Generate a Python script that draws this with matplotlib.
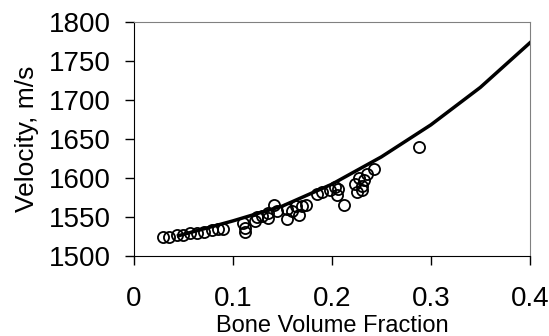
import matplotlib
matplotlib.use('Agg')
import matplotlib.pyplot as plt

plt.rcParams['font.family'] = ['Liberation Sans', 'DejaVu Sans']

# model curve
curve_bvf = [0.045, 0.1, 0.15, 0.2, 0.25, 0.3, 0.35, 0.4]
curve_vel = [1526, 1545, 1564, 1592, 1627, 1668, 1716, 1773]

# measured samples
bvf = [0.029, 0.035, 0.044, 0.050, 0.057, 0.064, 0.071, 0.079, 0.085, 0.090,
       0.110, 0.112, 0.112, 0.122, 0.124, 0.129, 0.135, 0.135, 0.142, 0.145,
       0.155, 0.155, 0.160, 0.164, 0.167, 0.170, 0.174, 0.185, 0.190, 0.198,
       0.203, 0.205, 0.206, 0.212, 0.223, 0.225, 0.227, 0.230, 0.230, 0.232,
       0.235, 0.243, 0.288]
vel = [1525, 1525, 1527, 1527, 1529, 1530, 1531, 1533, 1534, 1535,
       1542, 1536, 1531, 1545, 1550, 1551, 1549, 1555, 1565, 1558,
       1560, 1547, 1558, 1564, 1553, 1564, 1566, 1580, 1582, 1585,
       1588, 1578, 1586, 1565, 1592, 1582, 1600, 1590, 1585, 1598,
       1605, 1612, 1640]

fig = plt.figure(figsize=(5.49, 3.36), dpi=100)
ax = fig.add_axes([0.244, 0.238, 0.721, 0.697])

ax.plot(curve_bvf, curve_vel, color='black', lw=2.5, zorder=3)
ax.plot(bvf, vel, 'o', mfc='none', mec='black', ms=8, mew=1.3, zorder=2)

ax.set_xlim(0, 0.4)
ax.set_ylim(1500, 1800)
ax.set_xticks([0, 0.1, 0.2, 0.3, 0.4])
ax.set_xticklabels(['0', '0.1', '0.2', '0.3', '0.4'])
ax.set_yticks(range(1500, 1801, 50))

for s in ['top', 'right']:
    ax.spines[s].set_color('#808080')
for s in ['left', 'bottom']:
    ax.spines[s].set_color('black')
ax.tick_params(direction='out', length=6.5, width=1, labelsize=20, colors='black')
ax.tick_params(axis='y', pad=10)
ax.tick_params(axis='x', pad=15)

ax.set_xlabel('Bone Volume Fraction', fontsize=17, labelpad=2)
ax.set_ylabel('Velocity, m/s', fontsize=19, labelpad=7)

fig.savefig('out.png', dpi=100)
